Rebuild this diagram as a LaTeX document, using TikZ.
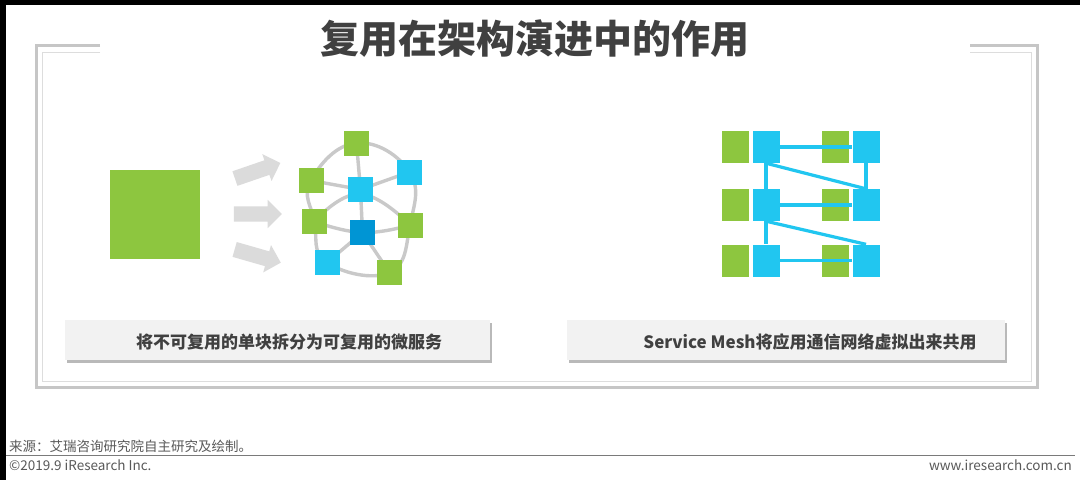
\documentclass[tikz,border=0pt]{standalone}
\usepackage{fontspec}
\setmainfont{Noto Sans CJK SC}
\usepackage{tikz}
\usetikzlibrary{shapes.arrows, shadows}
\definecolor{ink}{HTML}{404040}
\definecolor{leaf}{HTML}{8DC63F}
\definecolor{sky}{HTML}{21C6F0}
\definecolor{deepsky}{HTML}{0095D4}
\definecolor{netgray}{HTML}{C9C9C9}
\definecolor{arrowgray}{HTML}{DBDBDB}
\definecolor{framegray}{HTML}{C6C6C6}
\definecolor{capfill}{HTML}{F2F2F2}
\definecolor{foot}{HTML}{595959}

\begin{document}
\begin{tikzpicture}[
  x=1pt, y=-1pt,
  sq/.style={rectangle, minimum width=25pt, minimum height=25pt, inner sep=0pt},
  meshbox/.style={rectangle, minimum width=27pt, minimum height=32pt, inner sep=0pt},
  netline/.style={draw=netgray, line width=3.4pt},
  meshline/.style={draw=sky, line width=3.2pt},
  fatarrow/.style={single arrow, fill=arrowgray, minimum height=48pt, inner sep=7.5pt,
                   single arrow head extend=6.5pt},
  capbox/.style={rectangle, fill=capfill, minimum height=40pt,
                 drop shadow={shadow xshift=2pt, shadow yshift=-3pt, fill=black!50, opacity=0.55}},
  captext/.style={font=\fontsize{17}{20}\selectfont\bfseries, text=ink}
]
\useasboundingbox (0,0) rectangle (1080,480);
\fill[black] (0,0) rectangle (1080,480);
\fill[white] (6,5) rectangle (1080,480);

% frame
\draw[framegray, line width=3pt] (100,45) -- (36.5,45) -- (36.5,387) -- (1037,387) -- (1037,45) -- (970,45);
\draw[framegray!60, line width=1pt] (100,52) -- (42,52) -- (42,381) -- (1031,381) -- (1031,52) -- (970,52);

\node[font=\fontsize{39}{44}\selectfont\bfseries, text=ink] (title) at (535,38.5) {复用在架构演进中的作用};

% monolith -> microservices
\node[sq, fill=leaf, minimum width=90pt, minimum height=89pt] (mono) at (155,214.5) {};
\node[fatarrow, rotate=19] (arrA) at (254,172) {};
\node[fatarrow] (arrB) at (254,214) {};
\node[fatarrow, rotate=-16] (arrC) at (254,255) {};

\coordinate (top) at (356.5,143);
\coordinate (tr)  at (409.5,172);
\coordinate (lft) at (311,180.5);
\coordinate (mid) at (360.5,189.5);
\coordinate (lm)  at (314.5,221.5);
\coordinate (core) at (362.5,232.5);
\coordinate (rm)  at (410,225);
\coordinate (bl)  at (327,262.5);
\coordinate (br)  at (389.5,272.5);

\draw[netline] plot[smooth cycle, tension=0.75] coordinates {(top) (tr) (rm) (br) (bl) (lm) (lft)};
\draw[netline] plot[smooth, tension=0.8] coordinates {(lm) (360,194) (rm)};
\draw[netline] plot[smooth, tension=0.8] coordinates {(lm) (core) (rm)};
\draw[netline] (top) -- (mid);
\draw[netline] (lft) -- (mid);
\draw[netline] (tr) -- (mid);
\draw[netline] (mid) -- (core);
\draw[netline] (core) -- (bl);
\draw[netline] (core) -- (br);

\node[sq, fill=leaf]    (svcTop)  at (top) {};
\node[sq, fill=sky]     (svcTR)   at (tr) {};
\node[sq, fill=leaf]    (svcL)    at (lft) {};
\node[sq, fill=sky]     (svcMid)  at (mid) {};
\node[sq, fill=leaf]    (svcLM)   at (lm) {};
\node[sq, fill=deepsky] (svcCore) at (core) {};
\node[sq, fill=leaf]    (svcRM)   at (rm) {};
\node[sq, fill=sky]     (svcBL)   at (bl) {};
\node[sq, fill=leaf]    (svcBR)   at (br) {};

% service mesh
\foreach \r/\y in {1/147, 2/205, 3/260.5} {
  \node[meshbox, fill=leaf] (appA\r)  at (735.5,\y) {};
  \node[meshbox, fill=sky]  (sideA\r) at (766,\y) {};
  \node[meshbox, fill=leaf] (appB\r)  at (835.5,\y) {};
  \node[meshbox, fill=sky]  (sideB\r) at (866,\y) {};
  \draw[meshline] (sideA\r.east) -- (sideB\r.west);
}
\draw[meshline] (sideA1.south) -- (sideA2.north);
\draw[meshline] (sideA1.south) -- (sideB2.north);
\draw[meshline] (sideB1.south) -- (sideB2.north);
\draw[meshline] (sideA2.south) -- (sideA3.north);
\draw[meshline] (sideA2.south) -- (sideB3.north);

% captions
\node[capbox, minimum width=425pt] (capL) at (277.5,340) {};
\node[capbox, minimum width=438pt] (capR) at (786,340) {};
\node[captext] (capLtext) at (289,342) {将不可复用的单块拆分为可复用的微服务};
\node[captext] (capRtext) at (810,342) {Service Mesh将应用通信网络虚拟出来共用};

% footer
\node[anchor=west, font=\fontsize{13.5}{15}\selectfont, text=foot, inner sep=0pt] (src) at (9,446) {来源：艾瑞咨询研究院自主研究及绘制。};
\draw[foot!80, line width=1pt] (6,455.5) -- (1075,455.5);
\node[anchor=west, font=\fontsize{13.5}{15}\selectfont, text=foot, inner sep=0pt] (copy) at (9,465.5) {©2019.9 iResearch Inc.};
\node[anchor=east, font=\fontsize{13.5}{15}\selectfont, text=foot, inner sep=0pt] (url) at (1072,465.5) {www.iresearch.com.cn};
\end{tikzpicture}
\end{document}
